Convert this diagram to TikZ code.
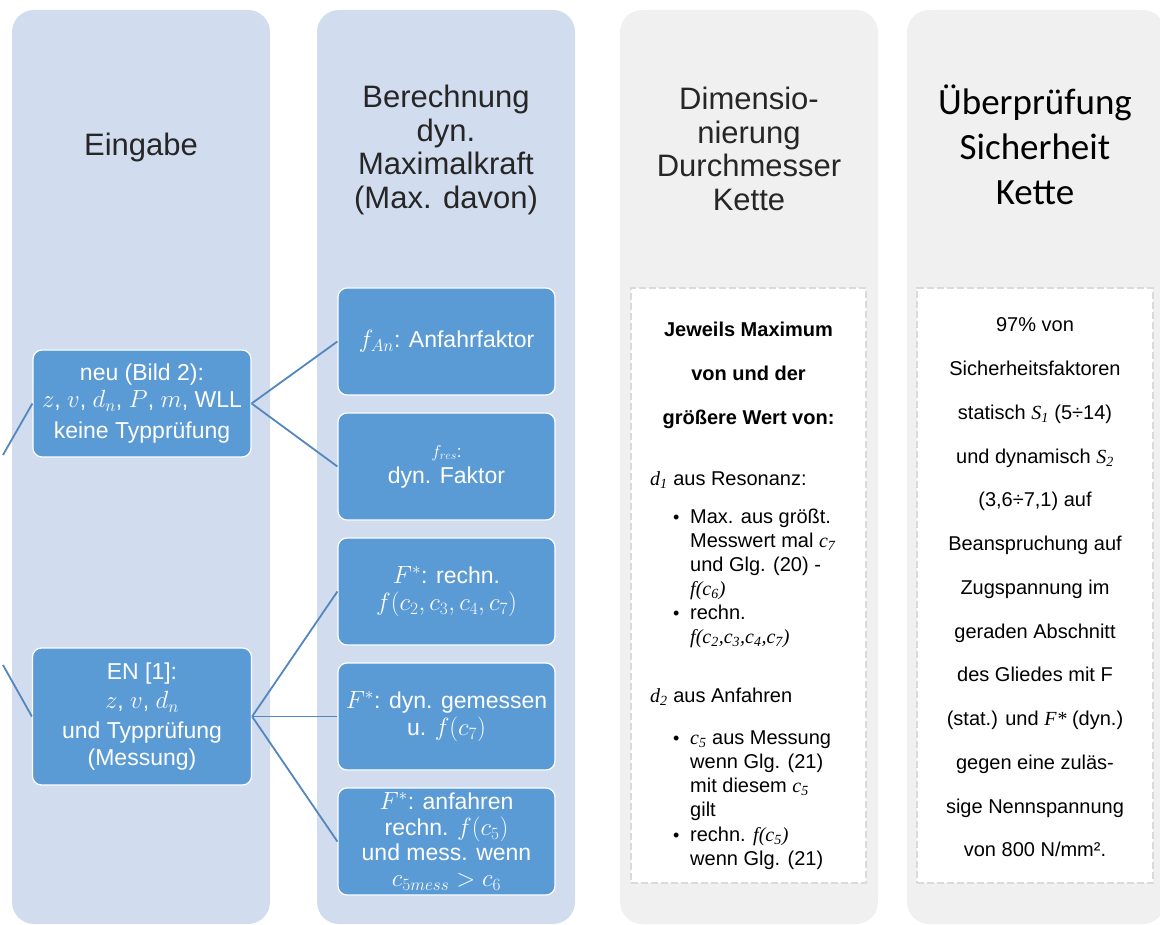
\documentclass[tikz,border=0pt]{standalone}
\usepackage{fontspec}
\setmainfont{Liberation Sans}
\newfontfamily\calfont{Carlito}
\newfontfamily\tms{Liberation Serif}
\newcommand\tv[1]{{\tms\itshape #1}}
\definecolor{colblue}{RGB}{209,221,238}
\definecolor{colgray}{RGB}{240,240,240}
\definecolor{boxblue}{RGB}{91,155,213}
\definecolor{linkblue}{RGB}{84,134,190}
\definecolor{dashgray}{RGB}{218,218,218}
\tikzset{
  colbox/.style={rounded corners=22pt, inner sep=0pt, draw=none, minimum width=258pt, minimum height=914pt},
  wbox/.style={draw=dashgray, line width=2.5pt, dash pattern=on 7pt off 3pt, fill=white, minimum width=235pt, minimum height=595pt, inner sep=0pt},
  bbox/.style={draw=white, line width=1.2pt, fill=boxblue, rounded corners=9pt, minimum width=217pt, minimum height=107pt, text=white, align=center, inner sep=0pt, font=\fontsize{23}{27}\selectfont},
  link/.style={draw=linkblue, line width=1.8pt},
  hdr/.style={font=\fontsize{31}{33.5}\selectfont, align=center, text=black!85},
  wtxt/.style={font=\fontsize{20}{24}\selectfont, anchor=base west, inner sep=0pt},
  bul/.style={font=\fontsize{18}{24}\selectfont, anchor=base west, inner sep=0pt},
}
\begin{document}
\begin{tikzpicture}[x=1pt,y=-1pt]
\useasboundingbox (0,0) rectangle (1160,925);
\clip (0,0) rectangle (1160,925);
% columns
\node[colbox, fill=colblue] (col1) at (141,467) {};
\node[colbox, fill=colblue] (col2) at (446,467) {};
\node[colbox, fill=colgray] (col3) at (749,467) {};
\node[colbox, fill=colgray] (col4) at (1036,467) {};
% headers
\node[hdr] (h1) at (141,147) {Eingabe};
\node[hdr] (h2) at (446,150) {Berechnung\\dyn.\\Maximalkraft\\(Max. davon)};
\node[hdr] (h3) at (749,149) {Dimensio-\\nierung\\Durchmesser\\Kette};
\node[align=center, text=black, font=\calfont\fontsize{37}{45}\selectfont] (h4) at (1035,145) {Überprüfung\\Sicherheit\\Kette};
% blue boxes column 1
\node[bbox, minimum width=218pt] (neu) at (142,403.5) {neu (Bild 2):\\ $z$, $v$, $d_n$, $P$, $m$, WLL\\[4pt] keine Typprüfung};
\node[bbox, minimum width=219pt, minimum height=137pt, font=\fontsize{23}{29.5}\selectfont] (en) at (142,716.5) {EN [1]:\\ $z$, $v$, $d_n$\\ und Typprüfung\\[-2pt] (Messung)};
% blue boxes column 2
\node[bbox] (fa) at (446.5,341.5) {$f_{An}$: Anfahrfaktor};
\node[bbox] (fr) at (446.5,466.5) {{\fontsize{17}{20}\selectfont $f_{res}$:}\\[-1pt] dyn. Faktor};
\node[bbox] (fc) at (446.5,591.5) {$F^*$: rechn.\\ $f(c_2,c_3,c_4,c_7)$};
\node[bbox] (fd) at (446.5,716.5) {$F^*$: dyn. gemessen\\ u. $f(c_7)$};
\node[bbox, font=\fontsize{23}{25.5}\selectfont] (fe) at (446.5,841.5) {$F^*$: anfahren\\ rechn. $f(c_5)$\\ und mess. wenn\\ $c_{5mess} > c_6$};
% connectors
\coordinate (p1) at (3,455);
\coordinate (p2) at (3,665);
\draw[link] (neu.west) -- (p1);
\draw[link] (en.west) -- (p2);
\draw[link] (neu.east) -- (fa.west);
\draw[link] (neu.east) -- (fr.west);
\draw[link] (en.east) -- (fc.west);
\draw[link] (en.east) -- (fd.west);
\draw[link] (en.east) -- (fe.west);
% white boxes
\node[wbox] (w3) at (748.5,585.5) {};
\node[wbox, minimum width=236pt] (w4) at (1035,585.5) {};
% column 3 text
\node[align=center, inner sep=0pt, font=\bfseries\fontsize{20}{44}\selectfont] (hb) at (748.5,375) {Jeweils Maximum\\von und der\\größere Wert von:};
\node[wtxt] (r1) at (650,485) {\tv{d\textsubscript{1}} aus Resonanz:};
\node[bul] (b1) at (673,523) {•};
\node[wtxt] (r2) at (690,523) {Max. aus größt.};
\node[wtxt] (r3) at (690,547) {Messwert mal \tv{c\textsubscript{7}}};
\node[wtxt] (r4) at (690,571) {und Glg. (20) -};
\node[wtxt] (r5) at (690,595) {\tv{f(c\textsubscript{6})}};
\node[bul] (b2) at (673,619) {•};
\node[wtxt] (r6) at (690,619) {rechn.};
\node[wtxt] (r7) at (690,643) {\tv{f(c\textsubscript{2},c\textsubscript{3},c\textsubscript{4},c\textsubscript{7})}};
\node[wtxt] (r8) at (650,702) {\tv{d\textsubscript{2}} aus Anfahren};
\node[bul] (b3) at (673,744) {•};
\node[wtxt] (r9) at (690,744) {\tv{c\textsubscript{5}} aus Messung};
\node[wtxt] (r10) at (690,768) {wenn Glg. (21)};
\node[wtxt] (r11) at (690,792) {mit diesem \tv{c\textsubscript{5}}};
\node[wtxt] (r12) at (690,816) {gilt};
\node[bul] (b4) at (673,841) {•};
\node[wtxt] (r13) at (690,841) {rechn. \tv{f(c\textsubscript{5})}};
\node[wtxt] (r14) at (690,865) {wenn Glg. (21)};
% column 4 text
\node[align=center, inner sep=0pt, font=\fontsize{20}{43.75}\selectfont] (s4) at (1035,587.5) {97\% von\\ Sicherheitsfaktoren\\ statisch \tv{S\textsubscript{1}} (5÷14)\\ und dynamisch \tv{S\textsubscript{2}}\\ (3,6÷7,1) auf\\ Beanspruchung auf\\ Zugspannung im\\ geraden Abschnitt\\ des Gliedes mit F\\ (stat.) und \tv{F*} (dyn.)\\ gegen eine zuläs-\\ sige Nennspannung\\ von 800 N/mm².};
\end{tikzpicture}
\end{document}
